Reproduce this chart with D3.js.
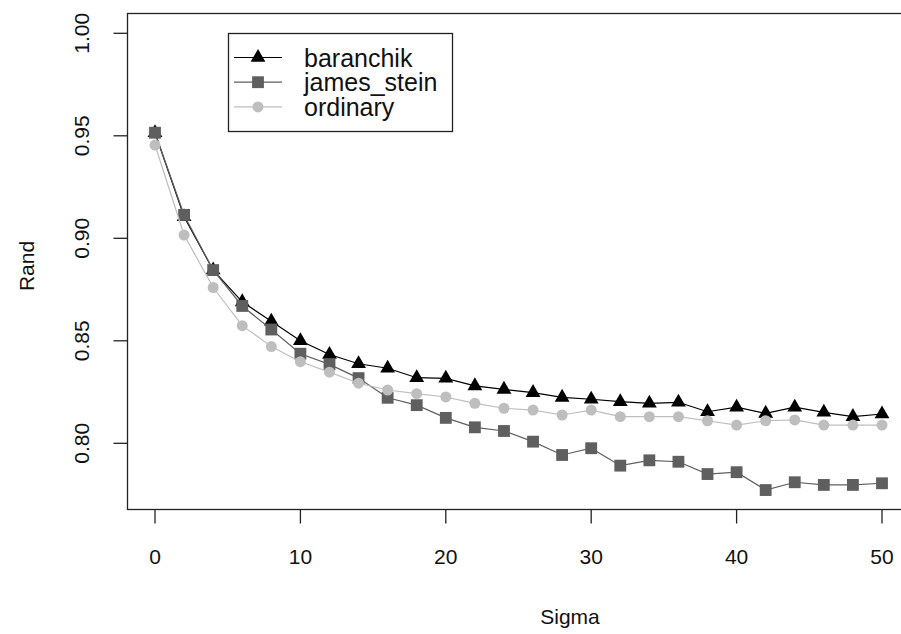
<!DOCTYPE html>
<html>
<head>
<meta charset="utf-8">
<title>Rand vs Sigma</title>
<script src="https://d3js.org/d3.v7.min.js"></script>
<style>
html, body { margin: 0; padding: 0; background: #fff; }
svg { display: block; font-family: "Liberation Sans", Arial, sans-serif; }
</style>
</head>
<body>
<script>
// values
let sigma = [0, 2, 4, 6, 8, 10, 12, 14, 16, 18, 20, 22, 24, 26, 28, 30, 32, 34, 36, 38, 40, 42, 44, 46, 48, 50];
let baranchik = [0.9515, 0.9105, 0.8845, 0.869, 0.8595, 0.850, 0.8433, 0.8388, 0.8366, 0.8320, 0.8317, 0.828, 0.8263,
    0.8247, 0.8224, 0.8215, 0.8203, 0.8195, 0.820, 0.8154, 0.8176, 0.8146, 0.8176, 0.8151, 0.813, 0.8143];
let jamesStein = [0.9515, 0.9114, 0.8845, 0.867, 0.8555, 0.8437, 0.8385, 0.8318, 0.8222, 0.8186, 0.8124, 0.8078, 0.806,
    0.8008, 0.7943, 0.7976, 0.7891, 0.7917, 0.791, 0.785, 0.7859, 0.7772, 0.781, 0.7797, 0.7797, 0.7805];
let ordinary = [0.9455, 0.9016, 0.876, 0.8574, 0.8472, 0.8398, 0.8347, 0.8293, 0.826, 0.8242, 0.8226, 0.8195, 0.8171,
    0.8162, 0.8138, 0.8162, 0.813, 0.813, 0.813, 0.811, 0.8089, 0.811, 0.8114, 0.8089, 0.8089, 0.8089];
let xTicks = [0, 10, 20, 30, 40, 50];
let yTicks = [0.80, 0.85, 0.90, 0.95, 1.00];

let series = [
    {name: 'baranchik', values: baranchik, color: '#000000', shape: d3.symbolTriangle, size: 95},
    {name: 'james_stein', values: jamesStein, color: '#5f5f5f', shape: d3.symbolSquare, size: 140},
    {name: 'ordinary', values: ordinary, color: '#bebebe', shape: d3.symbolCircle, size: 95}
];

let width = 901, height = 634;
let box = {left: 127.5, right: 912, top: 13.5, bottom: 509.5};

let svg = d3.select('body').append('svg').attr('width', width).attr('height', height);

let x = d3.scaleLinear().domain([0, 50]).range([155, 882]);
let y = d3.scaleLinear().domain([0.80, 1.00]).range([443.3, 33.3]);

// plot box
svg.append('rect').attr('x', box.left).attr('y', box.top)
    .attr('width', box.right - box.left).attr('height', box.bottom - box.top)
    .attr('fill', 'none').attr('stroke', '#222').attr('stroke-width', 1.3);

// x axis
let xAxis = svg.append('g').attr('transform', 'translate(0,' + box.bottom + ')');
xAxis.selectAll('line').data(xTicks).enter().append('line')
    .attr('x1', d => x(d)).attr('x2', d => x(d)).attr('y1', 0).attr('y2', 14)
    .attr('stroke', '#222').attr('stroke-width', 1.3);
xAxis.selectAll('text').data(xTicks).enter().append('text')
    .attr('x', d => x(d)).attr('y', 54).attr('text-anchor', 'middle')
    .attr('font-size', 21).attr('fill', '#111').text(d => d);

// y axis
let yAxis = svg.append('g').attr('transform', 'translate(' + box.left + ',0)');
yAxis.selectAll('line').data(yTicks).enter().append('line')
    .attr('x1', -14).attr('x2', 0).attr('y1', d => y(d)).attr('y2', d => y(d))
    .attr('stroke', '#222').attr('stroke-width', 1.3);
yAxis.selectAll('text').data(yTicks).enter().append('text')
    .attr('transform', d => 'translate(-39,' + y(d) + ') rotate(-90)')
    .attr('text-anchor', 'middle').attr('font-size', 21).attr('fill', '#111')
    .text(d => d3.format('.2f')(d));

// axis titles
svg.append('text').attr('x', 570).attr('y', 624).attr('text-anchor', 'middle')
    .attr('font-size', 21).attr('fill', '#111').text('Sigma');
svg.append('text').attr('transform', 'translate(34,' + 266 + ') rotate(-90)')
    .attr('text-anchor', 'middle').attr('font-size', 21).attr('fill', '#111').text('Rand');

// series lines and markers
let line = d3.line().x((d, i) => x(sigma[i])).y(d => y(d));
series.forEach(s => {
    let g = svg.append('g');
    g.append('path').datum(s.values).attr('d', line)
        .attr('fill', 'none').attr('stroke', s.color).attr('stroke-width', 1.2);
    g.selectAll('path.pt').data(s.values).enter().append('path').attr('class', 'pt')
        .attr('transform', (d, i) => 'translate(' + x(sigma[i]) + ',' + y(d) + ')')
        .attr('d', d3.symbol().type(s.shape).size(s.size)).attr('fill', s.color);
});

// legend
let legend = svg.append('g');
legend.append('rect').attr('x', 228.5).attr('y', 33.5).attr('width', 224).attr('height', 98)
    .attr('fill', '#fff').attr('stroke', '#222').attr('stroke-width', 1.3);
let rows = legend.selectAll('g').data(series).enter().append('g')
    .attr('transform', (d, i) => 'translate(0,' + (57.5 + i * 24.7) + ')');
rows.append('line').attr('x1', 234).attr('x2', 282).attr('y1', 0).attr('y2', 0)
    .attr('stroke', d => d.color).attr('stroke-width', 1.2);
rows.append('path').attr('transform', 'translate(258,0)')
    .attr('d', d => d3.symbol().type(d.shape).size(d.size)()).attr('fill', d => d.color);
rows.append('text').attr('x', 304).attr('y', 9).attr('font-size', 25).attr('fill', '#111').text(d => d.name);
</script>
</body>
</html>
